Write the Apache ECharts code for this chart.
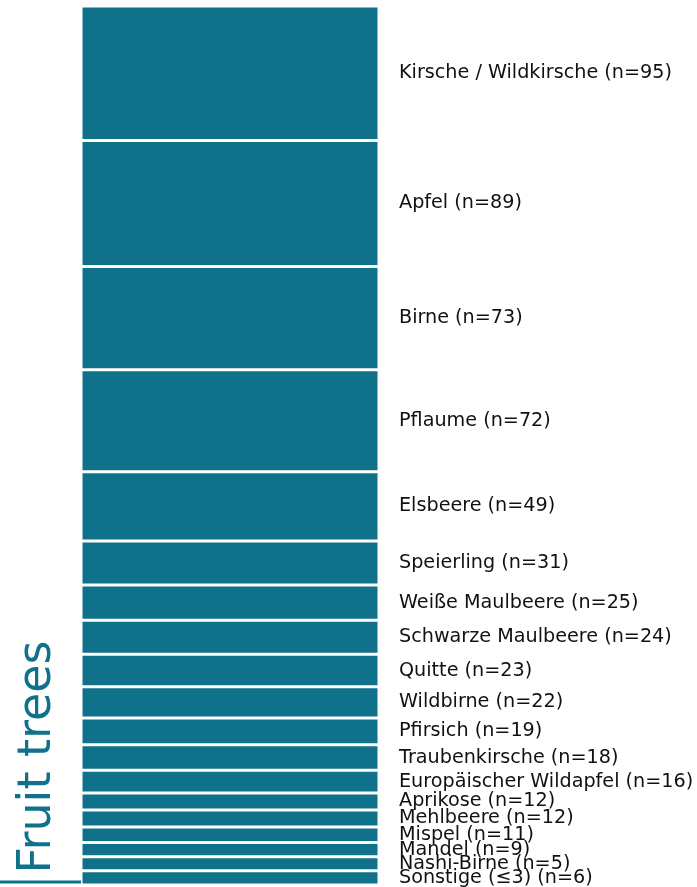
<!DOCTYPE html>
<html>
<head>
<meta charset="utf-8">
<script src="https://cdn.jsdelivr.net/npm/echarts@6/dist/echarts.min.js"></script>
<style>
  html, body { margin: 0; padding: 0; background: #fff; }
  #main { width: 697px; height: 887px; }
</style>
</head>
<body>
<div id="main"></div>
<script>
// Obstbaumarten, von oben nach unten
const fruitNames = [
  'Kirsche / Wildkirsche', 'Apfel', 'Birne', 'Pflaume', 'Elsbeere', 'Speierling',
  'Weiße Maulbeere', 'Schwarze Maulbeere', 'Quitte', 'Wildbirne', 'Pfirsich',
  'Traubenkirsche', 'Europäischer Wildapfel', 'Aprikose', 'Mehlbeere', 'Mispel',
  'Mandel', 'Nashi-Birne', 'Sonstige (≤3)'
];
const fruitCounts = [95, 89, 73, 72, 49, 31, 25, 24, 23, 22, 19, 18, 16, 12, 12, 11, 9, 5, 6];
const groupTitle = 'Fruit trees';

// kleine Segmente bekommen eine Mindesthöhe (in Zähleinheiten)
const MIN_SEGMENT = 10;
const TEAL = '#10718a';

const segHeights = fruitCounts.map(n => Math.max(n, MIN_SEGMENT));
const total = segHeights.reduce((a, b) => a + b, 0);

const series = fruitNames.map((name, i) => ({
  type: 'bar',
  stack: 'all',
  barWidth: '100%',
  name: name,
  data: [segHeights[i]],
  itemStyle: { color: TEAL, borderColor: '#fff', borderWidth: 1.5 },
  label: {
    show: true,
    position: 'right',
    distance: 20,
    color: '#111',
    fontFamily: 'DejaVu Sans',
    fontSize: 19.2,
    formatter: name + ' (n=' + fruitCounts[i] + ')'
  },
  emphasis: { disabled: true },
  animation: false
}));

const chart = echarts.init(document.getElementById('main'));
chart.setOption({
  animation: false,
  grid: { left: 81, right: 318, top: 6, bottom: 2 },
  xAxis: { type: 'category', data: [groupTitle], show: false },
  yAxis: { type: 'value', inverse: true, min: 0, max: total, show: false },
  series: series,
  graphic: [
    {
      type: 'text',
      x: 38,
      y: 757,
      rotation: Math.PI / 2,
      style: {
        text: groupTitle,
        fill: TEAL,
        fontFamily: 'DejaVu Sans',
        fontSize: 46,
        align: 'center',
        verticalAlign: 'middle'
      }
    },
    {
      type: 'line',
      shape: { x1: 0, y1: 882, x2: 81, y2: 882 },
      style: { stroke: TEAL, lineWidth: 3 }
    }
  ]
});
</script>
</body>
</html>
